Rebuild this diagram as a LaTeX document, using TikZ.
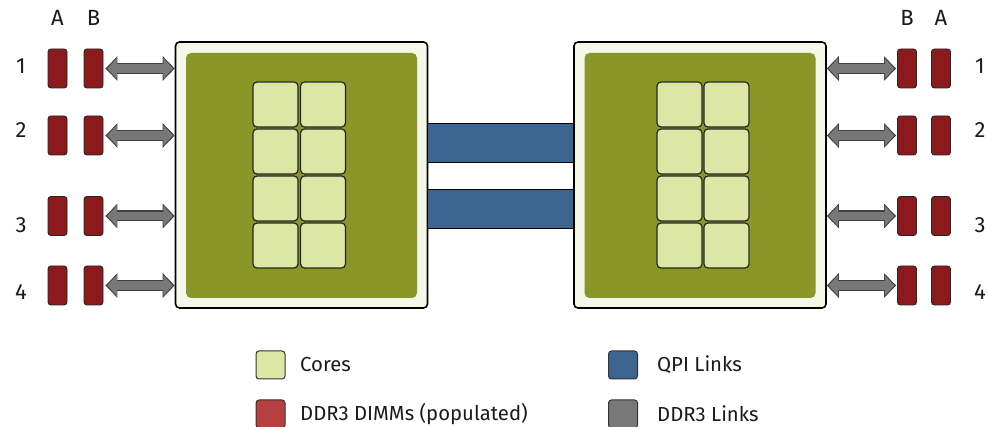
\documentclass[tikz,border=0pt]{standalone}
\usepackage{fontspec}
\setmainfont{Fira Sans}
\usetikzlibrary{arrows.meta}

\definecolor{boxwhite}{HTML}{F5F7E8}
\definecolor{diegreen}{HTML}{8A9628}
\definecolor{coregreen}{HTML}{DCE7A6}
\definecolor{dimmred}{HTML}{8C1A1D}
\definecolor{legendred}{HTML}{B5403F}
\definecolor{qpiblue}{HTML}{3B6590}
\definecolor{linkgray}{HTML}{787878}
\definecolor{textgray}{HTML}{1A1A1A}

\begin{document}
\begin{tikzpicture}[x=1pt,y=-1pt]
\tikzstyle{every node}=[font=\fontsize{20.3}{22}\selectfont, text=textgray]
\tikzstyle{head}=[font=\fontsize{22}{24}\selectfont]
\tikzstyle{cpubox}=[draw=black, line width=1.6pt, fill=boxwhite, rounded corners=4pt,
  minimum width=252pt, minimum height=266pt, inner sep=0pt]
\tikzstyle{die}=[fill=diegreen, rounded corners=5pt,
  minimum width=231pt, minimum height=245pt, inner sep=0pt]
\tikzstyle{core}=[draw=black!85, line width=1.2pt, fill=coregreen, rounded corners=4pt,
  minimum width=45pt, minimum height=45pt, inner sep=0pt]
\tikzstyle{dimm}=[draw=black!85, line width=0.9pt, fill=dimmred, rounded corners=3pt,
  minimum width=19pt, minimum height=39pt, inner sep=0pt]
\tikzstyle{legendbox}=[draw=black!80, line width=1pt, rounded corners=3pt,
  minimum width=29pt, minimum height=28pt, inner sep=0pt]
\tikzstyle{legendtext}=[anchor=west, inner sep=0pt]
\tikzstyle{qpilink}=[line width=38pt, qpiblue,
  preaction={draw=black, line width=40.5pt}]
\tikzstyle{ddrlink}=[line width=8.5pt, linkgray,
  {Triangle[length=9.5pt, width=20pt]}-{Triangle[length=9.5pt, width=20pt]},
  shorten <=1.8pt, shorten >=1.8pt,
  preaction={draw=black!75, line width=11pt, shorten <=0pt, shorten >=0pt,
    {Triangle[length=12pt, width=24pt]}-{Triangle[length=12pt, width=24pt]}}]

% background / bounding box
\useasboundingbox (0,0) rectangle (988,427);

% the two processors
\node[cpubox] (cpuL) at (301.5,175) {};
\node[die] (dieL) at (301.5,175.5) {};
\node[cpubox] (cpuR) at (700,175) {};
\node[die] (dieR) at (700,175.5) {};

% cores
\foreach \row/\y in {1/104.5,2/151.5,3/198.5,4/245.5} {
  \node[core] (coreLa\row) at (275.5,\y) {};
  \node[core] (coreLb\row) at (323,\y) {};
  \node[core] (coreRa\row) at (679.5,\y) {};
  \node[core] (coreRb\row) at (726.5,\y) {};
}

% QPI links
\draw[qpilink] ([yshift=32pt]cpuL.east) -- ([yshift=32pt]cpuR.west);
\draw[qpilink] ([yshift=-34pt]cpuL.east) -- ([yshift=-34pt]cpuR.west);

% DIMMs
\node[head] (hdAL) at (57.5,18) {A};
\node[head] (hdBL) at (93.5,18) {B};
\node[head] (hdBR) at (907,18) {B};
\node[head] (hdAR) at (941,18) {A};
\foreach \row/\y/\ty in {1/68.5/66,2/135.5/130,3/216/225,4/285.5/292} {
  \node[head] (numL\row) at (21,\ty) {\row};
  \node[head] (numR\row) at (980,\ty) {\row};
  \node[dimm] (dimmAL\row) at (57.5,\y) {};
  \node[dimm] (dimmBL\row) at (93.5,\y) {};
  \node[dimm] (dimmBR\row) at (907,\y) {};
  \node[dimm] (dimmAR\row) at (941,\y) {};
  \draw[ddrlink] ([xshift=2pt]dimmBL\row.east) -- (dimmBL\row.east -| cpuL.west);
  \draw[ddrlink] (dimmBR\row.west -| cpuR.east) -- ([xshift=-1pt]dimmBR\row.west);
}

% legend
\node[legendbox, fill=coregreen] (lgCores) at (270.5,365) {};
\node[legendtext] (lgCoresTxt) at (300,365) {Cores};
\node[legendbox, fill=legendred] (lgDimm) at (270.5,414) {};
\node[legendtext] (lgDimmTxt) at (300,414) {DDR3 DIMMs (populated)};
\node[legendbox, fill=qpiblue] (lgQpi) at (623,365) {};
\node[legendtext] (lgQpiTxt) at (657,365) {QPI Links};
\node[legendbox, fill=linkgray] (lgDdr) at (623,414) {};
\node[legendtext] (lgDdrTxt) at (657,414) {DDR3 Links};
\end{tikzpicture}
\end{document}
